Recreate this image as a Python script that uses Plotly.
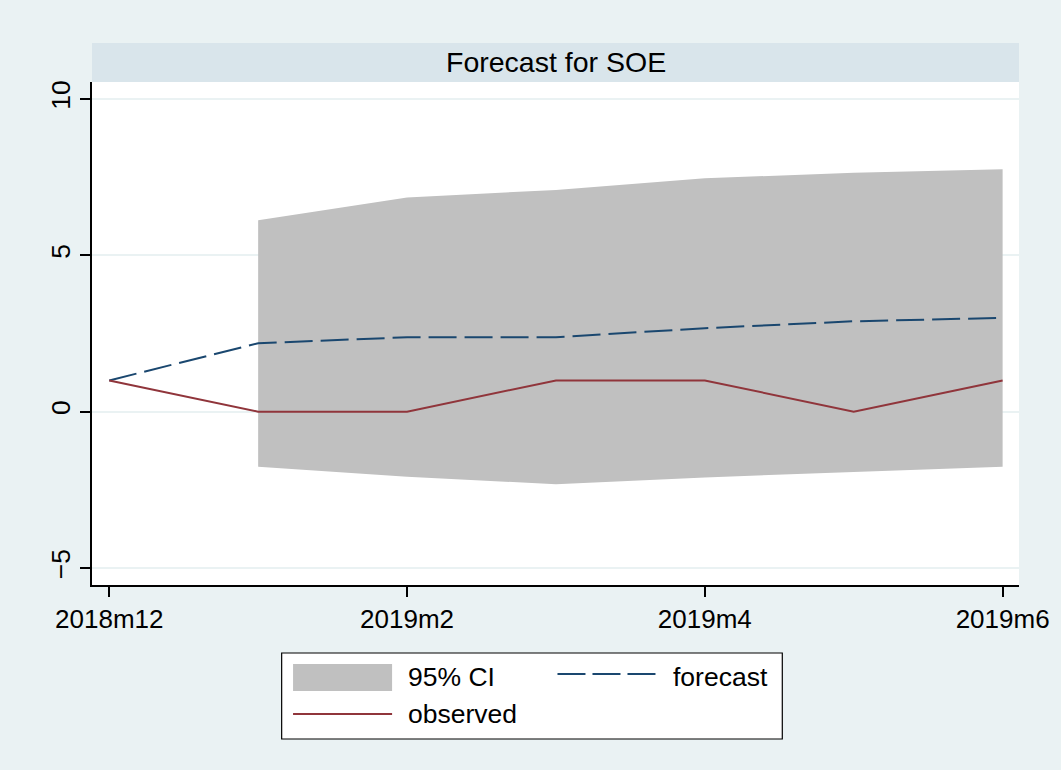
import plotly.graph_objects as go

# Monthly horizon: 2018m12 .. 2019m6 (0 = 2018m12)
months = [0, 1, 2, 3, 4, 5, 6]
tick_vals = [0, 2, 4, 6]
tick_text = ["2018m12", "2019m2", "2019m4", "2019m6"]

observed = [1, 0, 0, 1, 1, 0, 1]
forecast = [1, 2.19, 2.38, 2.38, 2.67, 2.89, 3.0]

ci_months = [1, 2, 3, 4, 5, 6]
ci_upper = [6.12, 6.85, 7.09, 7.46, 7.64, 7.75]
ci_lower = [-1.76, -2.08, -2.32, -2.10, -1.93, -1.76]

y_ticks = [-5, 0, 5, 10]

W, H = 1061, 770
ML, MR, MT, MB = 92, 33, 82, 185
PW, PH = W - ML - MR, H - MT - MB

OUTER = "#EAF2F3"
BAND = "#D9E5EB"
CI_GREY = "#C0C0C0"
NAVY = "#1A476F"
MAROON = "#90353B"
FONT = "Liberation Sans, Arial, sans-serif"


def px_x(px):
    return (px - ML) / PW


def px_y(py):
    return (H - MB - py) / PH


fig = go.Figure()

# 95% confidence band
fig.add_trace(go.Scatter(x=ci_months, y=ci_lower, mode="lines",
                         line=dict(width=0, color=CI_GREY),
                         showlegend=False, hoverinfo="skip"))
fig.add_trace(go.Scatter(x=ci_months, y=ci_upper, mode="lines",
                         line=dict(width=0, color=CI_GREY),
                         fill="tonexty", fillcolor=CI_GREY,
                         showlegend=False, name="95% CI"))

fig.add_trace(go.Scatter(x=months, y=forecast, mode="lines",
                         line=dict(color=NAVY, width=2, dash="28px,8px"),
                         showlegend=False, name="forecast"))
fig.add_trace(go.Scatter(x=months, y=observed, mode="lines",
                         line=dict(color=MAROON, width=2),
                         showlegend=False, name="observed"))

shapes = [
    # title band
    dict(type="rect", xref="paper", yref="paper", x0=0, x1=1,
         y0=1, y1=px_y(43), fillcolor=BAND, line_width=0, layer="below"),
    # legend box
    dict(type="rect", xref="paper", yref="paper", x0=px_x(283.5), x1=px_x(789),
         y0=px_y(739), y1=px_y(653), fillcolor="white",
         line=dict(color="black", width=1.2)),
    dict(type="rect", xref="paper", yref="paper", x0=px_x(295), x1=px_x(395),
         y0=px_y(691), y1=px_y(664), fillcolor=CI_GREY, line_width=0),
    dict(type="line", xref="paper", yref="paper", x0=px_x(562), x1=px_x(662),
         y0=px_y(674), y1=px_y(674), line=dict(color=NAVY, width=2, dash="28px,7px")),
    dict(type="line", xref="paper", yref="paper", x0=px_x(295), x1=px_x(395),
         y0=px_y(714), y1=px_y(714), line=dict(color=MAROON, width=2)),
]

annotations = [
    dict(text="Forecast for SOE", xref="paper", yref="paper", x=0.5, y=px_y(62),
         showarrow=False, xanchor="center", yanchor="middle",
         font=dict(size=28.5, color="black", family=FONT)),
    dict(text="95% CI", xref="paper", yref="paper", x=px_x(409), y=px_y(677),
         showarrow=False, xanchor="left", yanchor="middle",
         font=dict(size=26.5, color="black", family=FONT)),
    dict(text="forecast", xref="paper", yref="paper", x=px_x(677), y=px_y(677),
         showarrow=False, xanchor="left", yanchor="middle",
         font=dict(size=26.5, color="black", family=FONT)),
    dict(text="observed", xref="paper", yref="paper", x=px_x(409), y=px_y(714),
         showarrow=False, xanchor="left", yanchor="middle",
         font=dict(size=26.5, color="black", family=FONT)),
]

fig.update_layout(
    width=W, height=H,
    margin=dict(l=ML, r=MR, t=MT, b=MB, pad=0),
    paper_bgcolor=OUTER, plot_bgcolor="white",
    font=dict(family=FONT, color="black", size=26.5),
    shapes=shapes, annotations=annotations,
    showlegend=False,
    xaxis=dict(range=[-0.116, 6.11], tickvals=tick_vals, ticktext=tick_text,
               showgrid=False, zeroline=False, showline=True, linecolor="black",
               linewidth=1.5, ticks="outside", ticklen=10, tickwidth=1.5,
               tickcolor="black", tickfont=dict(size=26, family=FONT)),
    yaxis=dict(range=[-5.54, 10.54], tickvals=y_ticks, tickangle=-90,
               showgrid=True, gridcolor=OUTER, gridwidth=2, zeroline=False,
               showline=True, linecolor="black", linewidth=1.5,
               ticks="outside", ticklen=10, tickwidth=1.5, tickcolor="black",
               tickfont=dict(size=26.5, family=FONT)),
)

fig.write_html("out.html")
